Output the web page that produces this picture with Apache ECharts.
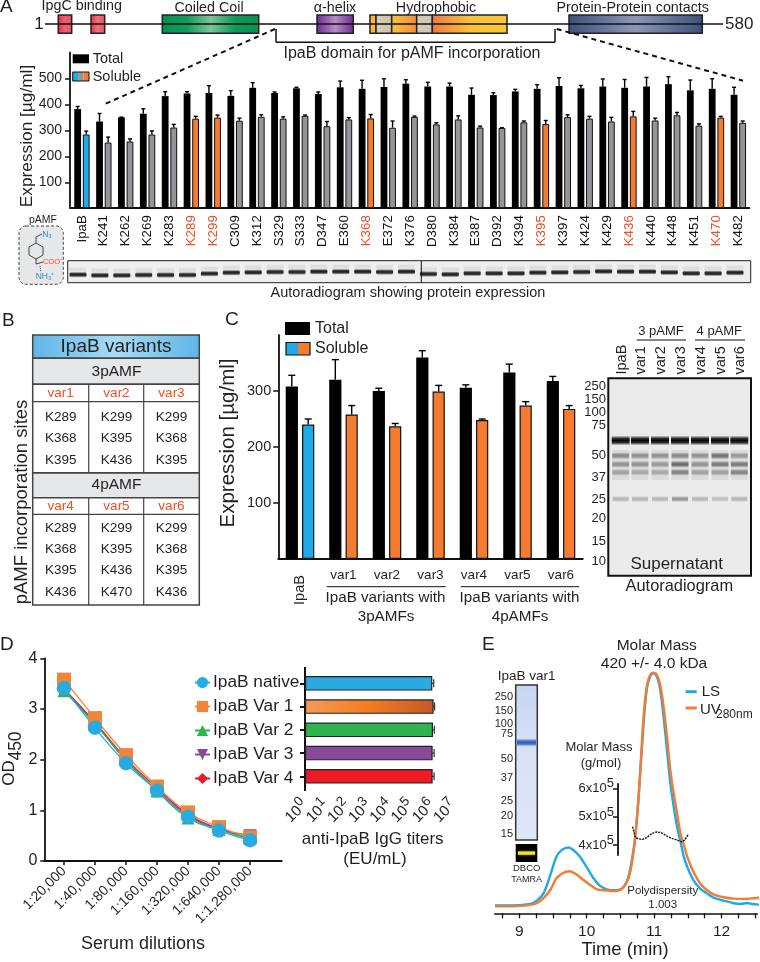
<!DOCTYPE html>
<html><head><meta charset="utf-8">
<style>html,body{margin:0;padding:0;background:#fff}#c{width:760px;height:962px}</style>
<script src="https://cdn.jsdelivr.net/npm/echarts@6/dist/echarts.min.js"></script>
</head><body><div id="c"></div>
<script>
// ---------- Panel A data ----------
const aCategories=['IpaB','K241','K262','K269','K283','K289','K299','C309','K312','S329','S333','D347','E360','K368','E372','K376','D380','K384','E387','D392','K394','K395','K397','K424','K429','K436','K440','K448','K451','K470','K482'];
const aTotal=[382,334,350,364,432,442,444,433,464,444,462,440,466,460,467,480,469,469,437,436,450,460,471,462,469,464,469,478,454,460,437];
const aTotalErr=[392,365,351,383,449,449,472,453,484,448,466,448,490,493,499,495,485,482,463,445,458,476,503,473,498,496,504,507,494,499,466];
const aSoluble=[284,253,257,284,311,345,349,337,352,345,356,316,342,346,310,352,323,342,311,309,331,324,351,345,334,354,338,358,318,349,329];
const aSolubleErr=[297,274,267,298,323,354,359,347,360,352,359,334,349,361,336,355,329,356,316,310,336,338,360,354,350,373,347,369,325,354,336];
const aHighlighted=['K289','K299','K368','K395','K436','K470'];
const aBlotY=[824,826,826,825,825,825,821,818,817,816,816,815,815,815,816,815,822,823,820,820,820,818,817,816,814,815,815,817,820,820,818];
// ---------- Panel B data ----------
const bVar3=['var1','var2','var3'];
const bSites3=[['K289','K368','K395'],['K299','K395','K436'],['K299','K368','K395']];
const bVar4=['var4','var5','var6'];
const bSites4=[['K289','K368','K395','K436'],['K299','K395','K436','K470'],['K299','K368','K395','K436']];
// ---------- Panel C data ----------
const cCategories=['IpaB','var1','var2','var3','var4','var5','var6'];
const cTotal=[308,320,300,360,306,333,318];
const cTotalErr=[328,356,305,372,311,348,326];
const cSoluble=[240,258,237,299,248,274,268];
const cSolubleErr=[250,274,242,310,250,281,274];
const cMarkers=['250','150','100','75','50','37','25','20','15','10'];
// ---------- Panel D data ----------
const dDilutions=['1:20,000','1:40,000','1:80,000','1:160,000','1:320,000','1:640,000','1:1,280,000'];
const dNative=[3.41,2.63,1.93,1.39,0.87,0.60,0.41];
const dVar1=[3.58,2.82,2.09,1.47,0.96,0.67,0.47];
const dVar2=[3.36,2.70,2.00,1.38,0.85,0.62,0.45];
const dVar3=[3.38,2.72,1.98,1.40,0.90,0.64,0.50];
const dVar4=[3.40,2.74,2.02,1.44,0.92,0.64,0.44];
const dNames=['IpaB native','IpaB Var 1','IpaB Var 2','IpaB Var 3','IpaB Var 4'];
const dTiters=[1010000,1170000,1090000,1050000,1050000];
const dTitersErr=[1180000,1300000,1260000,1230000,1230000];
const dTiterTicks=[1,10,100,1000,10000,100000,1000000,10000000];
// ---------- Panel E data ----------
const eLS=[[8.64,3.3],[8.91,3.3],[9.16,3.9],[9.26,5.3],[9.36,8.3],[9.46,16],[9.55,23.6],[9.63,26.4],[9.73,27.4],[9.80,26.4],[9.90,23.6],[10,19.2],[10.1,14.6],[10.2,11.4],[10.3,10],[10.4,9.6],[10.5,10],[10.57,11.8],[10.62,15.3],[10.67,22.2],[10.72,31.9],[10.77,48.6],[10.84,77.8],[10.89,93.1],[10.94,98.6],[10.99,100],[11.04,98.6],[11.09,93.1],[11.14,81.9],[11.19,68.1],[11.24,54.2],[11.29,44.4],[11.34,36.1],[11.39,29.9],[11.44,23.6],[11.49,19.4],[11.58,13.9],[11.68,10.4],[11.78,8.3],[11.88,6.5],[12.03,5.3],[12.18,4.2],[12.28,3.9],[12.38,4.3],[12.45,3.9],[12.56,3.6]];
const eUV=[[8.64,2.9],[8.91,2.9],[9.16,3.5],[9.26,4.2],[9.36,6.3],[9.46,9.7],[9.55,14.6],[9.65,16.8],[9.74,17.5],[9.82,16.7],[9.92,14.6],[10.05,11.8],[10.15,10],[10.25,9.6],[10.4,9.3],[10.5,9.7],[10.57,11.8],[10.62,14.6],[10.67,20.8],[10.72,31.9],[10.77,48.6],[10.84,80.6],[10.89,94.4],[10.94,99.3],[10.99,100.3],[11.04,99.4],[11.09,95.1],[11.14,86.1],[11.19,73.6],[11.24,59.7],[11.29,50],[11.34,41.7],[11.39,33.3],[11.44,28.5],[11.49,23.6],[11.58,17.4],[11.68,12.5],[11.78,9.7],[11.88,7.9],[12.03,6.7],[12.18,6.1],[12.33,6],[12.56,6.5]];
const eMolar=[[10.68,465000],[10.70,447000],[10.72,429000],[10.75,424000],[10.82,420000],[10.89,427000],[10.97,441000],[11.04,446000],[11.11,443000],[11.19,432000],[11.26,424000],[11.34,418000],[11.41,412000],[11.45,418000],[11.51,439000]];
const eMarkers=['250','150','100','75','50','37','25','20','15'];

const FF='"Liberation Sans",Arial,sans-serif', INK='#231f20', RED='#f04e23', ORANGE='#f47b2f', BLUE='#1fa9e6', GRAY='#939598';
const g=[];
function T(text,x,y,size,o){o=o||{};g.push({type:'text',x,y,rotation:o.rot||0,silent:true,z:50,style:{text,fill:o.fill||INK,fontFamily:FF,fontSize:size,align:o.align||'center',verticalAlign:o.va||'middle',rich:o.rich}});}
function L(x1,y1,x2,y2,w,o){o=o||{};g.push({type:'line',silent:true,z:o.z||40,shape:{x1,y1,x2,y2},style:{stroke:o.stroke||'#111',lineWidth:w||1.5,lineDash:o.dash}});}
function R(x,y,w,h,fill,o){o=o||{};g.push({type:'rect',silent:true,z:o.z||30,shape:{x,y,width:w,height:h,r:o.r||0},style:{fill,stroke:o.stroke,lineWidth:o.lw||0,lineDash:o.dash,shadowBlur:o.blur||0,shadowColor:o.sc||'transparent',opacity:o.op==null?1:o.op}});}
const hg=(...c)=>({type:'linear',x:0,y:0,x2:1,y2:0,colorStops:c.map((k,i)=>({offset:i/(c.length-1),color:k}))});
const soft=(rgb)=>({type:'linear',x:0,y:0,x2:0,y2:1,colorStops:[{offset:0,color:`rgba(${rgb},0)`},{offset:.3,color:`rgba(${rgb},.85)`},{offset:.5,color:`rgba(${rgb},1)`},{offset:.7,color:`rgba(${rgb},.85)`},{offset:1,color:`rgba(${rgb},0)`}]});

// panel letters
T('A',0,7,19,{align:'left'});T('B',2,321,19,{align:'left'});T('C',225,320,19,{align:'left'});T('D',0,645,19,{align:'left'});T('E',482,645,19,{align:'left'});

// ---- A: domain map ----
L(45,24,723,24,1.5);T('1',39,24,17);T('580',725,24,17,{align:'left'});
const dom=(x1,x2,f)=>R(x1,15,x2-x1,18.3,f,{stroke:'#222',lw:1.5});
dom(58.3,71.7,hg('#e7294f','#f0606a','#ee4a66'));dom(91,104.7,hg('#e7294f','#f07078','#ee4a66'));
dom(162.3,258.7,hg('#0b9150','#0f9a57','#7cc49a','#0f9a57','#0b9150'));
dom(317,353.3,hg('#6c2a90','#b48cc6','#6c2a90'));
dom(370,376,'#fbb92d');dom(376,391.7,hg('#d8cfb6','#c9c2ae'));dom(391.7,416.7,hg('#fbc33f','#f08a3e'));dom(416.7,432.3,hg('#d8cfb6','#c9c2ae'));dom(432.3,507,hg('#ec7a45','#fbc13a','#fbc73a'));
dom(569,702.3,hg('#3d4f7c','#8b97b5','#3d4f7c'));
T('IpgC binding',81.7,6,14.3);T('Coiled Coil',209,8.5,14.3);T('α-helix',335,8.5,14.3);T('Hydrophobic',436,8.5,14.3);T('Protein-Protein contacts',632.7,8.5,14.3);
L(276,29,276,42.3,1.5);L(276,42.3,555,42.3,1.5);L(555,42.3,555,29,1.5);
T('IpaB domain for pAMF incorporation',412,54,16);
L(275,29,104.3,104.3,2,{dash:[5,4]});L(556.7,29,743,80.7,2,{dash:[5,4]});
// A legend
R(72.7,54.3,16.3,9,'#000');T('Total',92.7,59,14.5,{align:'left'});
R(72.7,72,5.4,9,BLUE,{z:31});R(78.1,72,5.4,9,GRAY,{z:31});R(83.5,72,5.5,9,ORANGE,{z:31});R(72.7,72,16.3,9,'transparent',{stroke:'#111',lw:1,z:32});T('Soluble',92.7,77,14.5,{align:'left'});
T('Expression [µg/ml]',27,136,17.3,{rot:Math.PI/2});
// pAMF structure
T('pAMF',43,220,10.5);
R(19,226,44.3,58.3,'#e6e7e8',{stroke:'#444',lw:1,dash:[3,2],r:7});
[[36,243],[43,247],[43,255],[36,259],[29,255],[29,247],[36,243]].reduce((a,b)=>{L(a[0],a[1],b[0],b[1],1,{stroke:'#444',z:41});return b;});
L(36,243,36,237,1,{stroke:'#444',z:41});L(36,237,42,234,1,{stroke:'#444',z:41});L(36,259,36,264,1,{stroke:'#444',z:41});L(36,264,43,262,1,{stroke:'#444',z:41});L(40,266,41,272,1,{stroke:'#444',z:41,dash:[1,1]});
T('N₃',47,235,8.5,{fill:'#2f86c9'});T('COO⁻',53,262,7.5,{fill:RED});T('NH₃⁺',45,277,8.5,{fill:'#2f86c9'});
// blot
R(67.7,260.7,683,22,'#efefef',{stroke:'#222',lw:1});
aBlotY.forEach((zy,i)=>{R(69.5+21.9*i,zy/3-3,17,6,soft('30,30,30'),{z:33,r:2});R(69.5+21.9*i,zy/3-8,17,6,soft('150,150,150'),{z:33,op:.2});});
L(421.3,260.7,421.3,282.7,1,{z:41});
T('Autoradiogram showing protein expression',408,293.3,14.5);

// ---- B: table ----
const tc=[60.7,116.5,171.5];
R(32.7,335,166.6,23.3,hg('#5db5e6','#a8dcf5','#5db5e6'),{stroke:'#444',lw:1.5});
R(32.7,358.3,166.6,26,'#e6e7e8',{stroke:'#444',lw:1.5});R(32.7,472.7,166.6,25,'#e6e7e8',{stroke:'#444',lw:1.5});
R(32.7,384.3,166.6,88.4,'#fff',{stroke:'#444',lw:1.5});R(32.7,497.7,166.6,107.3,'#fff',{stroke:'#444',lw:1.5});
L(32.7,401.7,199.3,401.7,1.2,{stroke:'#444'});L(32.7,514.3,199.3,514.3,1.2,{stroke:'#444'});
[88.7,143.7].forEach(x=>{L(x,384.3,x,472.7,1.2,{stroke:'#444'});L(x,497.7,x,605,1.2,{stroke:'#444'});});
T('IpaB variants',116,346.7,19);T('3pAMF',116.5,371.3,15.5);T('4pAMF',116.5,485.2,15.5);
bVar3.forEach((v,i)=>T(v,tc[i],393.3,13.5,{fill:RED}));bVar4.forEach((v,i)=>T(v,tc[i],506.3,13.5,{fill:RED}));
const y3=[417,438.3,460.7],y4=[528.3,549.7,570.7,592];
bSites3.forEach((c,i)=>c.forEach((s,j)=>T(s,tc[i],y3[j],13.5)));bSites4.forEach((c,i)=>c.forEach((s,j)=>T(s,tc[i],y4[j],13.5)));
T('pAMF incorporation sites',21.7,502,18.5,{rot:Math.PI/2});

// ---- C: annotations ----
R(285,322,25,13,'#000');T('Total',315,329,16,{align:'left'});
R(286,342.5,12,12.5,BLUE,{z:31});R(298,342.5,12,12.5,ORANGE,{z:31});R(286,342.5,24,12.5,'transparent',{stroke:'#111',lw:1.2,z:32});T('Soluble',315,349,16,{align:'left'});
T('Expression [µg/ml]',228,443,20.5,{rot:Math.PI/2});
T('IpaB',300,590,14.5,{rot:Math.PI/2});
L(326.7,586.7,445.7,586.7,1);L(460.7,586.7,579.3,586.7,1);
T('IpaB variants with',385.5,598,15.2);T('3pAMFs',386,617,15.2);T('IpaB variants with',519.5,598,15.2);T('4pAMFs',520,617,15.2);
// C gel
R(608.3,378.3,142.7,197.4,'#ebebeb',{stroke:'#111',lw:2});
const gelX=[620.7,640,660,680,700,720,739.3];
const gelW=[[.55,.5,.4],[.5,.5,.35],[.5,.45,.35],[.55,.75,.6],[.5,.5,.4],[.7,.65,.4],[.45,.65,.6]];
const gel25=[.35,.35,.35,.55,.35,.3,.35];
gelX.forEach((x,i)=>{
  R(x-8.5,450,17,30,'#aaa',{z:32,op:.25});
  R(x-9,435.5,18,10,soft('10,10,10'),{z:33});
  [455.7,464.3,472.3].forEach((y,j)=>R(x-8.5,y-3.5,17,7,soft('70,70,70'),{z:33,op:gelW[i][j]}));
  R(x-8,496,16,6,soft('80,80,80'),{z:33,op:gel25[i]});});
const cMarkerY=[386,399.3,412.7,425.7,455.7,477,499.7,518,541,561];
cMarkers.forEach((m,i)=>T(m,606,cMarkerY[i],13,{align:'right'}));
T('Supernatant',676.7,564.3,17);T('Autoradiogram',679.3,586,16.4);
T('3 pAMF',661,331.7,13);L(636.7,340,686,340,1);T('4 pAMF',719.3,331.7,13);L(695,340,745,340,1);
cCategories.forEach((c,i)=>T(c,gelX[i]+1,374.5,14.5,{rot:Math.PI/2,align:'left'}));

// ---- D: annotations ----
T('OD',9,773,17,{rot:Math.PI/2});T('450',16,746,17.5,{rot:Math.PI/2});
T('Serum dilutions',143,944,18);
T('anti-IpaB IgG titers',372.7,839,17);T('(EU/mL)',375,859,17);
L(305,667,305,672,2);L(305,788,305,791,2);

// ---- E: annotations ----
T('Molar Mass',656.7,645.7,15.5);T('420 +/- 4.0 kDa',654,664,15.5);T('IpaB var1',526.7,676,13.5);
L(685.7,691.7,696.7,691.7,3,{stroke:BLUE});T('LS',701.7,692,15,{align:'left'});
L(685.7,708,696.7,708,3,{stroke:ORANGE});T('UV',700,710,15,{align:'left'});T('280nm',716,715,12,{align:'left'});
T('Molar Mass',599,747.7,13);T('(g/mol)',601,763,13);
T('Polydispersity',662.7,890.7,11.5);T('1.003',662.7,904.7,11.5);
T('Time (min)',625,950,18.4);
R(515.7,685,21.6,155,{type:'linear',x:0,y:0,x2:0,y2:1,colorStops:[{offset:0,color:'#c6d6f2'},{offset:.5,color:'#d9e3f6'},{offset:1,color:'#dfe6f6'}]},{stroke:'#333',lw:1.5});
R(517,738.5,19,8,soft('50,95,190'),{z:33});
const eMarkerY=[696.7,711,723.7,734,759,778,801,816,834];
eMarkers.forEach((m,i)=>T(m,513,eMarkerY[i],11,{align:'right'}));
R(515.7,844,21.6,18,'#000');R(518,851.5,17,3.2,'#f5e614',{z:33,blur:2,sc:'#c9b800'});
T('DBCO',526.7,868.7,9.5);T('TAMRA',526.7,879.3,9);

// ---------- Helpers for marks ----------
function errSeries(xi,yi,tops,bases,off,cap){return{type:'custom',xAxisIndex:xi,yAxisIndex:yi,z:1,silent:true,data:tops.map((t,i)=>[i,t,bases[i]]),
  renderItem:(p,api)=>{const a=api.coord([api.value(0),api.value(1)]),b=api.coord([api.value(0),api.value(2)]);const x=a[0]+off;
    return{type:'group',children:[{type:'line',shape:{x1:x,y1:a[1],x2:x,y2:b[1]},style:{stroke:'#000',lineWidth:1.4}},{type:'line',shape:{x1:x-cap,y1:a[1],x2:x+cap,y2:a[1]},style:{stroke:'#000',lineWidth:1.4}}]};}};}
const axis=(w)=>({lineStyle:{color:'#111',width:w||1.8}});
const solubleA=aCategories.map((c,i)=>({value:aSoluble[i],itemStyle:{color:i===0?BLUE:aHighlighted.includes(c)?ORANGE:GRAY}}));
const solubleC=cCategories.map((c,i)=>({value:cSoluble[i],itemStyle:{color:i===0?BLUE:ORANGE}}));
const barColors=['#29abe2',hg('#f79a5a','#f47b20','#c25a28'),'#2fb34f','#8a4a9c','#ed1c24'];
const dStyle=[['IpaB Var 4',dVar4,'diamond',13,'#ed1c24',0],['IpaB Var 3',dVar3,'triangle',13,'#8a4a9c',180],['IpaB Var 2',dVar2,'triangle',13,'#2fb34f',0],['IpaB Var 1',dVar1,'rect',14,'#f0863c',0],['IpaB native',dNative,'circle',14.5,'#29abe2',0]];

const option={animation:false,textStyle:{fontFamily:FF,color:INK},
 graphic:{elements:g},
 legend:{data:dNames,orient:'vertical',left:189,top:669,itemWidth:15,itemHeight:14,itemGap:7,selectedMode:false,textStyle:{fontFamily:FF,fontSize:17.3,color:INK,padding:[0,0,0,-2]}},
 grid:[
  {left:71,top:52.5,width:678.3,height:155.7,outerBoundsMode:'none'},
  {left:278.25,top:335,width:304.5,height:224,outerBoundsMode:'none'},
  {left:44.3,top:658.3,width:237.4,height:202.7,outerBoundsMode:'none'},
  {left:305,top:671.7,width:148.4,height:116.3,outerBoundsMode:'none'},
  {left:494.7,top:673.3,width:262.6,height:240,outerBoundsMode:'none'},
  {left:618,top:784,width:139.3,height:71,outerBoundsMode:'none'}],
 xAxis:[
  {gridIndex:0,type:'category',data:aCategories,axisLine:axis(),axisTick:{alignWithLabel:true,length:3.5,lineStyle:{color:'#111',width:1.3}},axisLabel:{rotate:90,margin:7,interval:0,fontSize:13.3,color:(v)=>aHighlighted.includes(v)?RED:'#111'}},
  {gridIndex:1,type:'category',data:cCategories,axisLine:axis(),axisTick:{alignWithLabel:true,length:5,lineStyle:{color:'#111',width:1.5}},axisLabel:{margin:9,interval:0,fontSize:13.5,color:INK,formatter:v=>v==='IpaB'?'':v}},
  {gridIndex:2,type:'value',min:-0.635,max:7.02,splitLine:{show:false},axisLine:axis(),axisTick:{length:4,customValues:[0,1,2,3,4,5,6],lineStyle:{color:'#111',width:1.5}},axisLabel:{customValues:[0,1,2,3,4,5,6],rotate:45,margin:8,fontSize:14,color:INK,formatter:v=>dDilutions[v]}},
  {gridIndex:3,type:'log',logBase:10,min:1,max:1e7,offset:3,splitLine:{show:false},minorTick:{show:false},minorSplitLine:{show:false},axisLine:axis(),axisTick:{length:4,lineStyle:{color:'#111',width:1.5}},axisLabel:{show:false}},
  {gridIndex:4,type:'value',min:8.635,max:12.53,splitLine:{show:false},axisLine:axis(1.5),axisTick:{length:5,customValues:[8.75,9,9.25,9.5,9.75,10,10.25,10.5,10.75,11,11.25,11.5,11.75,12,12.25,12.5],lineStyle:{color:'#111',width:1.3}},axisLabel:{customValues:[9,10,11,12],margin:10,fontSize:15.5,color:INK,formatter:v=>String(v)}},
  {gridIndex:5,type:'value',min:10.464,max:12.53,show:false,splitLine:{show:false}}],
 yAxis:[
  {gridIndex:0,type:'value',min:0,max:600,offset:1,splitLine:{show:false},axisLine:{show:true,...axis()},axisTick:{show:true,length:5,customValues:[100,200,300,400,500],lineStyle:{color:'#111',width:1.5}},axisLabel:{customValues:[100,200,300,400,500],margin:8,fontSize:14,color:INK}},
  {gridIndex:1,type:'value',min:0,max:400,splitLine:{show:false},axisLine:{show:true,...axis()},axisTick:{show:true,length:5,customValues:[100,200,300],lineStyle:{color:'#111',width:1.5}},axisLabel:{customValues:[100,200,300],margin:7,fontSize:14.5,color:INK}},
  {gridIndex:2,type:'value',min:0,max:4,interval:1,splitLine:{show:false},axisLine:{show:true,onZero:false,...axis()},axisTick:{show:true,length:4,lineStyle:{color:'#111',width:1.5}},axisLabel:{margin:7,fontSize:16,color:INK}},
  {gridIndex:3,type:'category',inverse:true,data:dNames,axisLine:{show:true,...axis(2)},axisTick:{show:true,alignWithLabel:true,length:5,lineStyle:{color:'#111',width:2}},axisLabel:{show:false}},
  {gridIndex:4,type:'value',min:0,max:100,show:false,splitLine:{show:false}},
  {gridIndex:5,type:'value',min:365000,max:615500,splitLine:{show:false},axisLine:{show:true,onZero:false,...axis()},axisTick:{show:true,length:5,customValues:[400000,500000,600000],lineStyle:{color:'#111',width:1.5}},axisLabel:{customValues:[400000,500000,600000],margin:4,color:INK,formatter:v=>`{b|${v/100000}x10}{s|5}`,rich:{b:{fontSize:13,fontFamily:FF,color:INK},s:{fontSize:13,fontFamily:FF,color:INK,verticalAlign:'top',padding:[0,0,9,0]}}}}],
 series:[
  errSeries(0,0,aTotalErr,aTotal,-4.3,2),errSeries(0,0,aSolubleErr,aSoluble,4.3,2),
  {name:'Total',type:'bar',xAxisIndex:0,yAxisIndex:0,data:aTotal,barWidth:6.8,barGap:'26%',itemStyle:{color:'#000'},silent:true,z:2},
  {name:'Soluble',type:'bar',xAxisIndex:0,yAxisIndex:0,data:solubleA,barWidth:6.8,itemStyle:{borderColor:'#111',borderWidth:1},silent:true,z:2},
  errSeries(1,1,cTotalErr,cTotal,-8.2,3.5),errSeries(1,1,cSolubleErr,cSoluble,8.2,3.5),
  {name:'Total C',type:'bar',xAxisIndex:1,yAxisIndex:1,data:cTotal,barWidth:12.2,barGap:'34%',itemStyle:{color:'#000'},silent:true,z:2},
  {name:'Soluble C',type:'bar',xAxisIndex:1,yAxisIndex:1,data:solubleC,barWidth:12.2,itemStyle:{borderColor:'#111',borderWidth:1.2},silent:true,z:2},
  ...dStyle.map(s=>({name:s[0],type:'line',xAxisIndex:2,yAxisIndex:2,smooth:true,data:s[1].map((v,i)=>[i,v]),symbol:s[2],symbolSize:s[3],symbolRotate:s[5],itemStyle:{color:s[4]},lineStyle:{color:s[4],width:1.3},silent:true})),
  {type:'custom',xAxisIndex:3,yAxisIndex:3,silent:true,z:1,data:dTitersErr.map((v,i)=>[v,i]),renderItem:(p,api)=>{const a=api.coord([api.value(0),api.value(1)]);return{type:'group',children:[{type:'line',shape:{x1:a[0],y1:a[1]-4,x2:a[0],y2:a[1]+4},style:{stroke:'#333',lineWidth:1.2}},{type:'line',shape:{x1:a[0]-8,y1:a[1],x2:a[0],y2:a[1]},style:{stroke:'#333',lineWidth:1.2}}]};}},
  {name:'Titers',type:'bar',xAxisIndex:3,yAxisIndex:3,barWidth:14.5,silent:true,z:2,data:dTiters.map((v,i)=>({value:v,itemStyle:{color:barColors[i],borderColor:'#222',borderWidth:1.2}}))},
  // log-axis tick labels 10^n, positioned from the axis scale
  {type:'custom',xAxisIndex:3,yAxisIndex:3,silent:true,clip:false,z:10,data:dTiterTicks.map(v=>[v,4]),renderItem:(p,api)=>{const a=api.coord([api.value(0),api.value(1)]);
    return{type:'group',x:a[0]+1,y:802,rotation:Math.PI/4,children:[
      {type:'text',style:{text:'10',x:-9,y:0,align:'right',verticalAlign:'middle',fontSize:15,fontFamily:FF,fill:INK}},
      {type:'text',style:{text:String(Math.round(Math.log10(api.value(0)))),x:-8.5,y:-5,align:'left',verticalAlign:'middle',fontSize:13.5,fontFamily:FF,fill:INK}}]};}},
  {name:'LS',type:'line',xAxisIndex:4,yAxisIndex:4,data:eLS,smooth:.3,symbol:'none',clip:false,silent:true,lineStyle:{color:BLUE,width:2.4}},
  {name:'UV',type:'line',xAxisIndex:4,yAxisIndex:4,data:eUV,smooth:.3,symbol:'none',clip:false,silent:true,lineStyle:{color:ORANGE,width:2.4}},
  {name:'Molar mass',type:'line',xAxisIndex:5,yAxisIndex:5,data:eMolar,smooth:.3,symbol:'none',clip:false,silent:true,z:5,lineStyle:{color:'#111',width:1.4,type:[2,1]}}
 ]};
echarts.init(document.getElementById('c'),null,{renderer:'canvas'}).setOption(option);
</script></body></html>
